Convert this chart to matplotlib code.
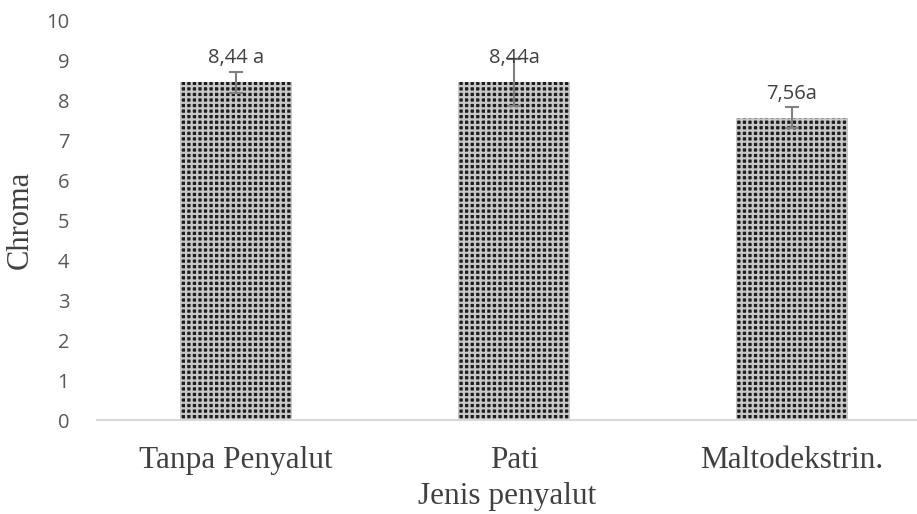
import matplotlib.pyplot as plt
import numpy as np

plt.rcParams['hatch.linewidth'] = 1.6

# chroma values per coating type
jenis = ['Tanpa Penyalut', 'Pati', 'Maltodekstrin.']
chroma = [8.44, 8.44, 7.56]
err = [0.26, 0.58, 0.26]
labels = ['8,44 a', '8,44a', '7,56a']

f = plt.figure(figsize=(9.17, 5.14), dpi=100)
ax = f.add_axes([97/917, 94/514, 820/917, 400/514])

x = np.arange(len(jenis))
ax.bar(x, chroma, width=0.4, color='#1e1e1e', edgecolor='#c8c8c8',
       hatch='+++', linewidth=0, zorder=2)
ax.errorbar(x, chroma, yerr=err, fmt='none', ecolor='#808080',
            elinewidth=1.5, capsize=5, capthick=1.5, zorder=3)

for xi, v, t in zip(x, chroma, labels):
    ax.text(xi, v + 0.6, t, ha='center', va='center', fontsize=14.5,
            color='#404040', family='Open Sans')

ax.set_xlim(-0.5, 2.45)
ax.set_ylim(0, 10)
ax.set_yticks(range(0, 11))
ax.set_xticks(x)
ax.set_xticklabels(jenis, family='Liberation Serif', fontsize=22.5, color='#404040')
for lab in ax.get_yticklabels():
    lab.set_family('Open Sans')
    lab.set_fontsize(14.5)
    lab.set_color('#595959')
ax.tick_params(axis='y', length=0, pad=20)
ax.tick_params(axis='x', length=0, pad=19)

for s in ['top', 'right', 'left']:
    ax.spines[s].set_visible(False)
ax.spines['bottom'].set_color('#d9d9d9')
ax.spines['bottom'].set_linewidth(1.5)

ax.set_xlabel('Jenis penyalut', family='Liberation Serif', fontsize=22.5, color='#404040', labelpad=5)
ax.set_ylabel('Chroma', family='Liberation Serif', fontsize=22, color='#404040', labelpad=8)

f.savefig('out.png', dpi=100)
